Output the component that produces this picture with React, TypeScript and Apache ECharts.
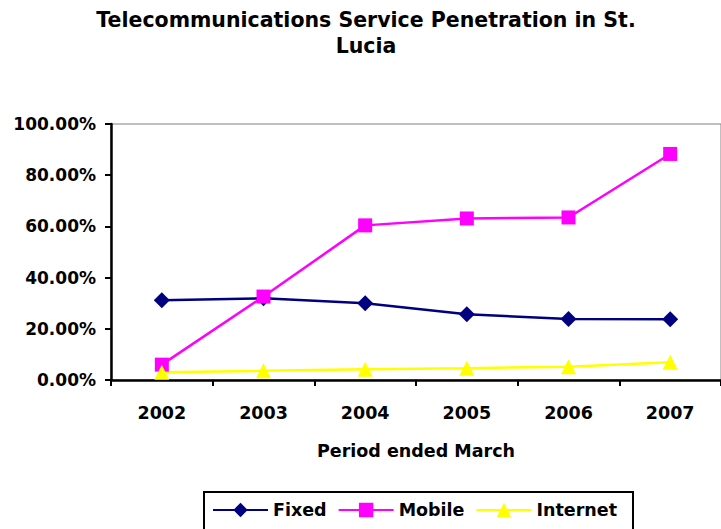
import React, { useEffect, useRef } from "react";
import * as echarts from "echarts";

const years = ["2002", "2003", "2004", "2005", "2006", "2007"];
const fixed = [31.2, 31.9, 30.0, 25.7, 23.8, 23.7];
const mobile = [6.0, 32.6, 60.4, 63.1, 63.5, 88.3];
const internet = [3.0, 3.6, 4.2, 4.6, 5.2, 6.9];
const yTicks = [0, 20, 40, 60, 80, 100];

const FONT = "'DejaVu Sans', 'Liberation Sans', sans-serif";

export default function App() {
  const ref = useRef<HTMLDivElement>(null);
  useEffect(() => {
    document.body.style.margin = "0";
    const chart = echarts.init(ref.current!, null, { renderer: "svg" });
    const mk = (name: string, data: number[], color: string, symbol: string, size: number) => ({
      name,
      type: "line",
      data,
      symbol,
      symbolSize: size,
      lineStyle: { color, width: 2.5 },
      itemStyle: { color },
    });
    const txt = (size: number) => ({ fontFamily: FONT, fontSize: size, fontWeight: "bold", color: "#000" });
    chart.setOption({
      animation: false,
      backgroundColor: "#fff",
      textStyle: { fontFamily: FONT },
      title: {
        text: "Telecommunications Service Penetration in St.\nLucia",
        left: 366,
        textAlign: "center",
        top: 7,
        padding: 0,
        textStyle: { ...txt(20.5), lineHeight: 26 },
      },
      grid: {
        left: 111,
        top: 124,
        width: 614,
        height: 256,
        show: true,
        borderColor: "#808080",
        borderWidth: 1,
      },
      legend: {
        left: 204,
        top: 492,
        itemWidth: 55,
        itemHeight: 18,
        itemGap: 11,
        padding: [9, 16, 12, 8],
        borderColor: "#000",
        borderWidth: 2,
        textStyle: txt(17.5),
        data: ["Fixed", "Mobile", "Internet"],
      },
      xAxis: {
        type: "category",
        data: years,
        boundaryGap: true,
        name: "Period ended March",
        nameLocation: "middle",
        nameGap: 62,
        nameTextStyle: txt(17.5),
        axisLine: { lineStyle: { color: "#000", width: 2.5 } },
        axisTick: { show: true, length: 6, lineStyle: { color: "#000", width: 2 } },
        axisLabel: { ...txt(17.5), margin: 24 },
      },
      yAxis: {
        type: "value",
        min: yTicks[0],
        max: yTicks[yTicks.length - 1],
        interval: 20,
        axisLine: { show: true, lineStyle: { color: "#000", width: 2.5 } },
        axisTick: { show: true, length: 6, lineStyle: { color: "#000", width: 2 } },
        splitLine: { show: false },
        axisLabel: {
          ...txt(17),
          margin: 15,
          formatter: (v: number) => v.toFixed(2) + "%",
        },
      },
      series: [
        mk("Fixed", fixed, "#000080", "diamond", 16),
        mk("Mobile", mobile, "#FF00FF", "rect", 14),
        mk("Internet", internet, "#FFFF00", "triangle", 15),
      ],
    });
    return () => chart.dispose();
  }, []);
  return <div ref={ref} style={{ width: 721, height: 529 }} />;
}
